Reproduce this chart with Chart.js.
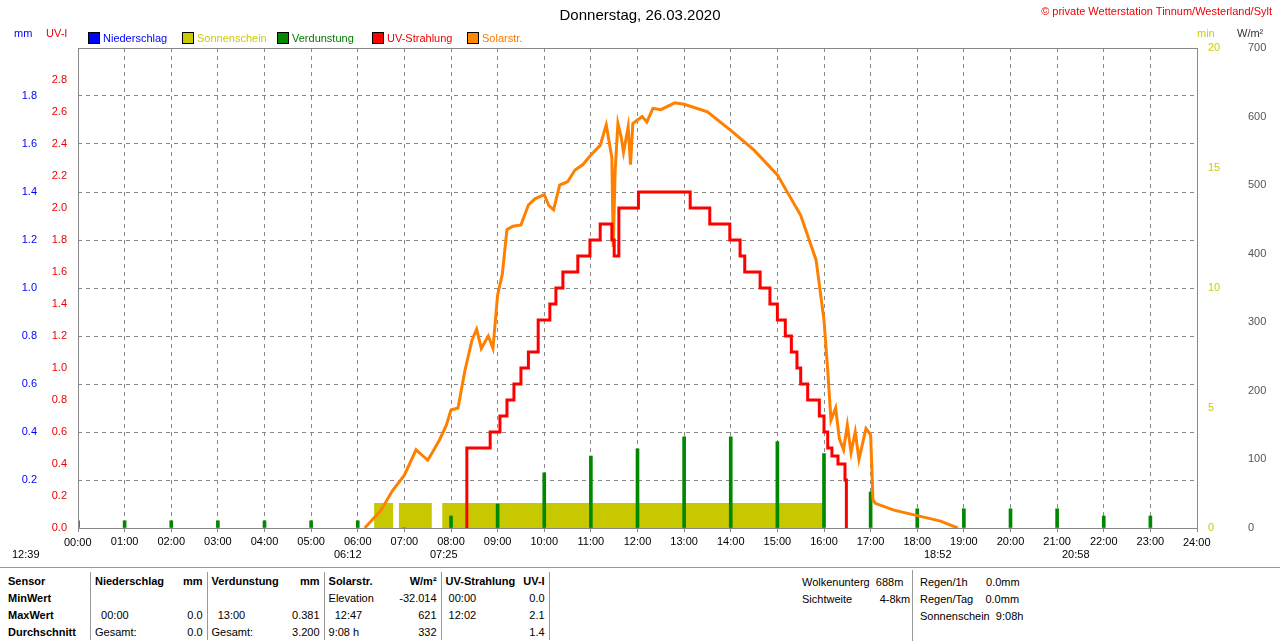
<!DOCTYPE html>
<html><head><meta charset="utf-8">
<script src="https://cdn.jsdelivr.net/npm/chart.js@4.4.0/dist/chart.umd.min.js"></script>
<style>
body{margin:0;background:#fff;font-family:"Liberation Sans",Arial,sans-serif;font-size:11px;}
#wrap{position:relative;width:1280px;height:641px;overflow:hidden}
canvas{position:absolute;left:0;top:0}
.t{position:absolute;white-space:nowrap}
.sq{display:inline-block;width:10px;height:10px;border:1px solid #000;vertical-align:-2px;margin-right:3px}
table{position:absolute;left:4px;top:572px;border-collapse:collapse;font-size:11px}
td{padding:0 4px;height:17px;white-space:nowrap}
</style></head><body><div id="wrap">
<canvas id="c" width="1280" height="565"></canvas>
<div class="t" style="left:0;width:1280px;text-align:center;top:6px;font-size:15px">Donnerstag, 26.03.2020</div>
<div class="t" style="right:8px;top:5px;color:#e00;font-size:11px">© private Wetterstation Tinnum/Westerland/Sylt</div>
<div class="t" style="left:14px;top:27px;color:#00f">mm</div>
<div class="t" style="left:46px;top:27px;color:#e00">UV-I</div>
<div class="t" style="left:1197px;top:27px;color:#cc0">min</div>
<div class="t" style="left:1237px;top:27px;color:#333">W/m²</div>
<div class="t" style="left:88px;top:32px;color:#00f"><span class="sq" style="background:#00f"></span>Niederschlag</div>
<div class="t" style="left:182px;top:32px;color:#cc0"><span class="sq" style="background:#c8c800"></span>Sonnenschein</div>
<div class="t" style="left:277px;top:32px;color:#070"><span class="sq" style="background:#080"></span>Verdunstung</div>
<div class="t" style="left:372px;top:32px;color:#e00"><span class="sq" style="background:#f00"></span>UV-Strahlung</div>
<div class="t" style="left:467px;top:32px;color:#f70"><span class="sq" style="background:#f80"></span>Solarstr.</div>
<div class="t" style="left:64px;top:536px">00:00</div>
<div class="t" style="left:1183px;top:536px">24:00</div>
<div class="t" style="left:12px;top:548px">12:39</div>
<div class="t" style="left:334px;top:548px">06:12</div>
<div class="t" style="left:430px;top:548px">07:25</div>
<div class="t" style="left:924px;top:548px">18:52</div>
<div class="t" style="left:1062px;top:548px">20:58</div>
<div class="t" style="left:0;top:567px;width:1280px;border-top:1px solid #999"></div>
<table>
<tr style="font-weight:bold"><td style="width:78px">Sensor</td><td style="border-left:1px solid #999;width:80px">Niederschlag</td><td style="text-align:right">mm</td><td style="border-left:1px solid #999;width:70px">Verdunstung</td><td style="text-align:right;width:30px">mm</td><td style="border-left:1px solid #999;width:60px">Solarstr.</td><td style="text-align:right;width:40px">W/m²</td><td style="border-left:1px solid #999">UV-Strahlung</td><td style="text-align:right;border-right:1px solid #999">UV-I</td></tr>
<tr><td style="font-weight:bold">MinWert</td><td style="border-left:1px solid #999"></td><td></td><td style="border-left:1px solid #999"></td><td></td><td style="border-left:1px solid #999">Elevation</td><td style="text-align:right">-32.014</td><td style="border-left:1px solid #999">&nbsp;00:00</td><td style="text-align:right;border-right:1px solid #999">0.0</td></tr>
<tr><td style="font-weight:bold">MaxWert</td><td style="border-left:1px solid #999">&nbsp;&nbsp;00:00</td><td style="text-align:right">0.0</td><td style="border-left:1px solid #999">&nbsp;&nbsp;13:00</td><td style="text-align:right">0.381</td><td style="border-left:1px solid #999">&nbsp;&nbsp;12:47</td><td style="text-align:right">621</td><td style="border-left:1px solid #999">&nbsp;12:02</td><td style="text-align:right;border-right:1px solid #999">2.1</td></tr>
<tr><td style="font-weight:bold">Durchschnitt</td><td style="border-left:1px solid #999">Gesamt:</td><td style="text-align:right">0.0</td><td style="border-left:1px solid #999">Gesamt:</td><td style="text-align:right">3.200</td><td style="border-left:1px solid #999">9:08 h</td><td style="text-align:right">332</td><td style="border-left:1px solid #999"></td><td style="text-align:right;border-right:1px solid #999">1.4</td></tr>
</table>
<div class="t" style="left:802px;top:576px">Wolkenunterg&nbsp;&nbsp;688m</div>
<div class="t" style="left:802px;top:593px">Sichtweite&nbsp;&nbsp;&nbsp;&nbsp;&nbsp;&nbsp;&nbsp;&nbsp;&nbsp;4-8km</div>
<div class="t" style="left:912px;top:570px;height:71px;border-left:1px solid #999"></div>
<div class="t" style="left:920px;top:576px">Regen/1h&nbsp;&nbsp;&nbsp;&nbsp;&nbsp;&nbsp;0.0mm</div>
<div class="t" style="left:920px;top:593px">Regen/Tag&nbsp;&nbsp;&nbsp;&nbsp;0.0mm</div>
<div class="t" style="left:920px;top:610px">Sonnenschein&nbsp;&nbsp;9:08h</div>
</div>
<script>
const solarT=[6.15,6.5,6.75,7,7.25,7.4,7.5,7.6,7.75,7.9,8,8.15,8.3,8.45,8.55,8.65,8.8,8.9,9,9.1,9.2,9.33,9.5,9.66,9.8,10,10.1,10.2,10.33,10.5,10.66,10.83,11,11.2,11.33,11.4,11.45,11.48,11.52,11.58,11.65,11.7,11.8,11.85,11.9,12,12.1,12.2,12.33,12.5,12.8,13,13.5,14,14.5,15,15.5,15.83,16,16.08,16.15,16.25,16.33,16.42,16.5,16.58,16.67,16.75,16.9,17,17.05,17.1,17.5,18,18.5,18.87];
const solarV=[0,26,55,77,114,105,99,110,128,150,172,175,230,274,290,262,280,262,340,370,435,440,442,471,480,486,470,464,500,505,522,530,544,558,588,560,540,410,520,590,570,548,585,530,590,595,600,592,612,610,620,618,607,580,551,515,456,391,303,230,157,175,130,114,150,110,140,100,145,136,41,36,26,18,10,0];
const uvT=[8.33,8.34,8.84,9.05,9.2,9.35,9.5,9.66,9.87,10.12,10.25,10.4,10.72,10.98,11.2,11.45,11.5,11.6,12.02,13.13,13.55,13.98,14.2,14.3,14.63,14.84,15,15.17,15.3,15.42,15.5,15.65,15.9,16.0,16.08,16.17,16.3,16.45,16.48];
const uvV=[0,0.5,0.6,0.7,0.8,0.9,1.0,1.1,1.3,1.4,1.5,1.6,1.7,1.8,1.9,1.8,1.7,2.0,2.1,2.0,1.9,1.8,1.7,1.6,1.5,1.4,1.3,1.2,1.1,1.0,0.9,0.8,0.7,0.6,0.5,0.45,0.4,0.3,0];
const sunStart=[6.35,6.88,7.81];
const sunEnd=[6.76,7.59,15.98];
const evapT=[0,1,2,3,4,5,6,7,8,9,10,11,12,13,14,15,16,17,18,19,20,21,22,23];
const evapV=[0.03,0.03,0.03,0.03,0.03,0.03,0.03,0.0,0.05,0.1,0.23,0.3,0.33,0.38,0.38,0.36,0.31,0.15,0.08,0.08,0.08,0.08,0.05,0.05];
const hourLabels=Array.from({length:25},(_,i)=>String(i).padStart(2,'0')+':00');

const sunData=[];
sunStart.forEach((s,i)=>{sunData.push({x:s,y:null},{x:s,y:1.04},{x:sunEnd[i],y:1.04},{x:sunEnd[i],y:null});});
const frame={id:'frame',afterDraw(c){const a=c.chartArea,x=c.ctx;x.save();x.strokeStyle='#888';x.lineWidth=1;x.strokeRect(a.left+.5,a.top+.5,a.right-a.left,a.bottom-a.top);x.restore();}};
const fw=w=>function(s){s.width=w;};
new Chart(document.getElementById('c'),{
 data:{datasets:[
  {type:'line',label:'Sonnenschein',yAxisID:'ymin',data:sunData,backgroundColor:'#c8c800',borderWidth:0,pointRadius:0,fill:'origin',spanGaps:false,order:5},
  {type:'bar',label:'Verdunstung',yAxisID:'ymm',data:evapT.map((t,i)=>({x:t,y:evapV[i]})),backgroundColor:'#080',barThickness:3,order:4},
  {type:'line',label:'Solar',yAxisID:'yw',data:solarT.map((t,i)=>({x:t,y:solarV[i]})),borderColor:'#ff8000',borderWidth:3,pointRadius:0,tension:0,order:2},
  {type:'line',label:'UV',yAxisID:'yuv',data:uvT.map((t,i)=>({x:t,y:uvV[i]})),borderColor:'#f00',borderWidth:3,pointRadius:0,stepped:'before',order:1}
 ]},
 options:{responsive:false,animation:false,
  layout:{padding:{top:48,left:0,right:0,bottom:0}},
  plugins:{legend:{display:false},tooltip:{enabled:false}},
  scales:{
   x:{type:'linear',offset:false,min:0,max:24,afterFit(s){s.height=37;},ticks:{stepSize:1,autoSkip:false,maxRotation:0,color:'#000',font:{size:11,family:'Liberation Sans'},callback:v=>(v==0||v==24)?'':hourLabels[v]},grid:{offset:false,color:'#888',tickLength:4,drawTicks:true},border:{dash:[4,4],display:false}},
   ymm:{position:'left',weight:2,min:0,max:2,afterFit:fw(40),ticks:{stepSize:0.2,color:'#00f',font:{size:11,family:'Liberation Sans'},callback:v=>(v==0||v>=2)?'':v.toFixed(1)},grid:{color:'#888',drawTicks:false},border:{display:false,dash:[4,4]}},
   yuv:{position:'left',weight:1,min:0,max:3,afterFit:fw(38),ticks:{stepSize:0.2,color:'#e00',font:{size:11,family:'Liberation Sans'},callback:v=>v>=2.9?'':v.toFixed(1)},grid:{display:false},border:{display:false}},
   ymin:{position:'right',weight:1,min:0,max:20,afterFit:fw(40),ticks:{stepSize:5,color:'#cc0',font:{size:11,family:'Liberation Sans'}},grid:{display:false},border:{display:false}},
   yw:{position:'right',weight:2,min:0,max:700,afterFit:fw(43),ticks:{stepSize:100,color:'#555',font:{size:11,family:'Liberation Sans'}},grid:{display:false},border:{display:false}}
  }}
 ,plugins:[frame]});
</script></body></html>
